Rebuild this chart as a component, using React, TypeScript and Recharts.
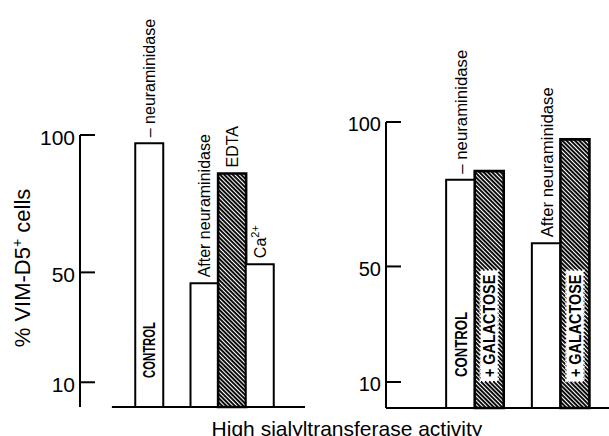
import { Bar, BarChart, Cell, LabelList, ReferenceLine, XAxis, YAxis } from 'recharts';

const FONT = '"Liberation Sans", Arial, Helvetica, sans-serif';
const Y_TICKS = [10, 50, 100];

// Left panel: one slot per bar width, counted from the y axis. null = empty slot.
const LEFT_SLOTS = ['s0', 's1', 'control', 's3', 'afterNeur', 'edta', 'ca', 's7'];
const LEFT_VALUES = [null, null, 97, null, 46, 86, 53, null];
const LEFT_HATCHED = [false, false, false, false, false, true, false, false];
const LEFT_TOP = ['', '', '– neuraminidase', '', 'After neuraminidase', 'EDTA', 'Ca^2+', ''];
const LEFT_INSIDE = ['', '', 'CONTROL', '', '', '', '', ''];

// Right panel
const RIGHT_SLOTS = ['s0', 's1', 'control', 'galactose', 's4', 'afterNeur', 'afterGalactose'];
const RIGHT_VALUES = [null, null, 80, 83, null, 58, 94];
const RIGHT_HATCHED = [false, false, false, true, false, false, true];
const RIGHT_TOP = ['', '', '– neuraminidase', '', '', 'After neuraminidase', ''];
const RIGHT_INSIDE = ['', '', 'CONTROL', '+ GALACTOSE', '', '', '+ GALACTOSE'];

type Row = { slot: string; value: number | null; hatched: boolean; top: string; inside: string };

function rows(slots: string[], values: (number | null)[], hatched: boolean[], top: string[], inside: string[]): Row[] {
  return slots.map((slot, i) => ({ slot, value: values[i], hatched: hatched[i], top: top[i], inside: inside[i] }));
}

const leftData = rows(LEFT_SLOTS, LEFT_VALUES, LEFT_HATCHED, LEFT_TOP, LEFT_INSIDE);
const rightData = rows(RIGHT_SLOTS, RIGHT_VALUES, RIGHT_HATCHED, RIGHT_TOP, RIGHT_INSIDE);

/** Tick line pointing into the plot, number to the left of the axis. */
function YTick({ x, y, payload, fs }: any) {
  return (
    <g>
      <line x1={x} x2={x + 15} y1={y} y2={y} stroke="#000" strokeWidth={2} />
      <text x={x - 5} y={y + fs * 0.36 + 2} textAnchor="end" fontSize={fs} fontFamily={FONT} fill="#000">
        {payload?.value}
      </text>
    </g>
  );
}

/** Rotated label standing on top of a bar; "^" marks a superscript tail (Ca^2+). */
function makeTopLabel(fs: number) {
  return function TopLabel({ x, y, width, value }: any) {
    if (!value) return null;
    const cx = x + width / 2;
    const y0 = y - 6;
    const [base, sup] = String(value).split('^');
    return (
      <text
        x={cx}
        y={y0}
        dy={fs * 0.37}
        transform={`rotate(-90 ${cx} ${y0})`}
        fontSize={fs}
        fontFamily={FONT}
        fill="#000"
      >
        {base}
        {sup && (
          <tspan dy={-7} fontSize={11}>
            {sup}
          </tspan>
        )}
      </text>
    );
  };
}

/** Bold condensed label written up the inside of a bar; "+ ..." labels sit on a white strip. */
function makeInsideLabel(charPx: number, gap: number) {
  return function InsideLabel({ x, y, width, height, value }: any) {
    if (!value) return null;
    const cx = x + width / 2;
    const y0 = y + height - gap;
    const len = String(value).length * charPx;
    const boxed = String(value).startsWith('+');
    return (
      <g>
        {boxed && (
          <rect
            x={cx - 8.5}
            y={y0 - len - 4}
            width={17}
            height={len + 8}
            fill="#fff"
            stroke="#fff"
            strokeWidth={2.5}
            strokeDasharray="2 2"
          />
        )}
        <text
          x={cx}
          y={y0}
          dy={6}
          transform={`rotate(-90 ${cx} ${y0})`}
          fontSize={16.5}
          fontWeight="bold"
          fontFamily={FONT}
          textLength={len}
          lengthAdjust="spacingAndGlyphs"
          fill="#000"
        >
          {value}
        </text>
      </g>
    );
  };
}

const LeftTop = makeTopLabel(16);
const RightTop = makeTopLabel(16.8);
const LeftInside = makeInsideLabel(8, 29);
const RightInside = makeInsideLabel(9.3, 31);

function bars(data: Row[], top: any, inside: any) {
  return (
    <Bar dataKey="value" stroke="#000" strokeWidth={2} isAnimationActive={false}>
      {data.map((d, i) => (
        <Cell key={i} fill={d.hatched ? 'url(#hatch)' : '#fff'} strokeWidth={d.hatched ? 2.6 : 2} />
      ))}
      <LabelList dataKey="top" content={top} />
      <LabelList dataKey="inside" content={inside} />
    </Bar>
  );
}

export default function App() {
  return (
    <div style={{ position: 'absolute', left: 0, top: 0, width: 609, height: 436, background: '#fff', overflow: 'hidden' }}>
      <svg width={609} height={436} style={{ position: 'absolute', left: 0, top: 0 }}>
        <defs>
          <pattern id="hatch" patternUnits="userSpaceOnUse" width={6} height={3} patternTransform="rotate(45)">
            <rect width={6} height={3} fill="#fff" />
            <rect width={6} height={1.9} fill="#000" />
          </pattern>
        </defs>
        <text
          x={22}
          y={268}
          dy={8}
          transform="rotate(-90 22 268)"
          textAnchor="middle"
          fontSize={22}
          fontFamily={FONT}
          fill="#000"
        >
          % VIM-D5
          <tspan dy={-8} fontSize={14}>
            +
          </tspan>
          <tspan dy={8}> cells</tspan>
        </text>
        <text x={347} y={436} textAnchor="middle" fontSize={21} fontFamily={FONT} fill="#000">
          High sialyltransferase activity
        </text>
      </svg>

      <div style={{ position: 'absolute', left: 0, top: 0 }}>
        <BarChart
          width={305}
          height={436}
          data={leftData}
          margin={{ top: 135, right: 2, bottom: 29, left: 20 }}
          barCategoryGap={0}
          barGap={0}
        >
          <XAxis dataKey="slot" hide padding={{ left: 0, right: 2 }} />
          {/* numeric frame in bar-width slots, only used to place the baseline */}
          <XAxis xAxisId="frame" type="number" domain={[0, 8]} allowDataOverflow hide />
          <YAxis
            domain={[1, 100]}
            ticks={Y_TICKS}
            interval={0}
            width={60}
            axisLine={{ stroke: '#000', strokeWidth: 2 }}
            tickLine={false}
            tickSize={0}
            tickMargin={0}
            tick={(p: any) => <YTick {...p} fs={21} />}
          />
          <ReferenceLine
            xAxisId="frame"
            ifOverflow="visible"
            segment={[
              { x: 1, y: 1 },
              { x: 8, y: 1 },
            ]}
            stroke="#000"
            strokeWidth={2}
          />
          {bars(leftData, LeftTop, LeftInside)}
        </BarChart>
      </div>

      <div style={{ position: 'absolute', left: 300, top: 0 }}>
        <BarChart
          width={309}
          height={436}
          data={rightData}
          margin={{ top: 122, right: 0, bottom: 26, left: 26 }}
          barCategoryGap={0}
          barGap={0}
        >
          <XAxis
            dataKey="slot"
            tick={false}
            tickLine={false}
            height={2}
            axisLine={{ stroke: '#000', strokeWidth: 2 }}
            padding={{ left: 3, right: 20 }}
          />
          <YAxis
            domain={[1, 100]}
            ticks={Y_TICKS}
            interval={0}
            width={60}
            axisLine={{ stroke: '#000', strokeWidth: 2 }}
            tickLine={false}
            tickSize={0}
            tickMargin={0}
            tick={(p: any) => <YTick {...p} fs={20} />}
          />
          {bars(rightData, RightTop, RightInside)}
        </BarChart>
      </div>
    </div>
  );
}
